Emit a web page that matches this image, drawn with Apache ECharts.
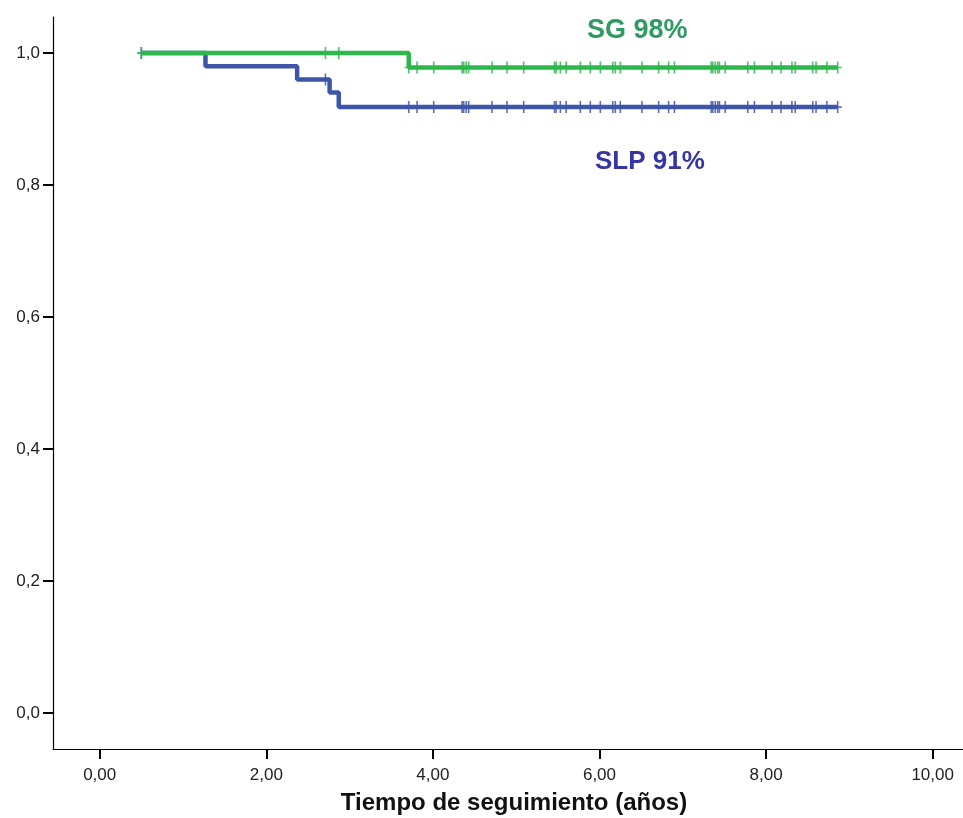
<!DOCTYPE html>
<html>
<head>
<meta charset="utf-8">
<script src="https://cdn.jsdelivr.net/npm/echarts@6/dist/echarts.min.js"></script>
<style>html,body{margin:0;padding:0;background:#fff}#c{width:963px;height:818px}</style>
</head>
<body>
<div id="c"></div>
<script>
// Kaplan-Meier step points [time (years), survival]
const sgSteps = [[0.5, 1.0], [3.71, 0.978], [8.86, 0.978]];
const slpSteps = [[0.5, 1.0], [1.27, 0.98], [2.37, 0.96], [2.76, 0.94], [2.87, 0.918], [8.86, 0.918]];
// censored observations (years)
const sharedCensor = [3.71, 3.81, 4.01, 4.35, 4.37, 4.40, 4.43, 4.71, 4.89, 5.09, 5.46, 5.48, 5.53, 5.60,
  5.77, 5.89, 6.01, 6.16, 6.19, 6.25, 6.51, 6.71, 6.83, 6.90, 7.34, 7.36, 7.39, 7.42, 7.44, 7.51,
  7.78, 7.86, 8.07, 8.18, 8.31, 8.35, 8.56, 8.60, 8.73, 8.86];
const sgCensor = [0.5, 2.71, 2.87].concat(sharedCensor);
const slpCensor = [0.5, 2.71].concat(sharedCensor);
const xTicks = [0, 2, 4, 6, 8, 10];
const yTicks = [0, 0.2, 0.4, 0.6, 0.8, 1.0];
const sgLabel = 'SG 98%';
const slpLabel = 'SLP 91%';
const xTitle = 'Tiempo de seguimiento (años)';

function survAt(steps, t) {
  let v = steps[0][1];
  for (const s of steps) { if (s[0] <= t + 1e-9) v = s[1]; }
  return v;
}
const green = '#2db84b', blue = '#3f56a8';
const plus = 'path://M-0.8,-5.5h1.6v11h-1.6z M-4,-0.7h8v1.4h-8z';

const chart = echarts.init(document.getElementById('c'), null, {renderer: 'canvas'});
const font = 'Liberation Sans, Arial, sans-serif';
chart.setOption({
  animation: false,
  backgroundColor: '#fff',
  grid: {left: 53, right: 0, top: 17, bottom: 69, containLabel: false},
  xAxis: {
    type: 'value', min: -0.5606, max: 10.364,
    splitLine: {show: false},
    axisLine: {onZero: false, lineStyle: {color: '#000', width: 1.2}},
    axisTick: {customValues: xTicks, length: 10, lineStyle: {color: '#000', width: 2}},
    axisLabel: {customValues: xTicks, margin: 18, fontSize: 17, fontFamily: font, color: '#222',
      formatter: v => v.toFixed(2).replace('.', ',')}
  },
  yAxis: {
    type: 'value', min: -0.05455, max: 1.05455,
    splitLine: {show: false},
    axisLine: {onZero: false, lineStyle: {color: '#000', width: 1.2}},
    axisTick: {customValues: yTicks, length: 10, lineStyle: {color: '#000', width: 2}},
    axisLabel: {customValues: yTicks, margin: 13, fontSize: 17, fontFamily: font, color: '#222',
      formatter: v => v.toFixed(1).replace('.', ',')}
  },
  series: [
    {type: 'line', step: 'end', data: slpSteps, showSymbol: false, z: 2,
      lineStyle: {color: blue, width: 4.5}},
    {type: 'scatter', data: slpCensor.map(t => [t, survAt(slpSteps, t)]), symbol: plus,
      symbolSize: [8, 12], z: 3, itemStyle: {color: blue, opacity: 0.85}},
    {type: 'line', step: 'end', data: sgSteps, showSymbol: false, z: 4,
      lineStyle: {color: green, width: 4.5}},
    {type: 'scatter', data: sgCensor.map(t => [t, survAt(sgSteps, t)]), symbol: plus,
      symbolSize: [8, 12], z: 5, itemStyle: {color: green, opacity: 0.85}}
  ],
  graphic: [
    {type: 'text', left: 587, top: 17, style: {text: sgLabel, font: 'bold 27px ' + font, fill: '#2f9a62'}},
    {type: 'text', left: 595, top: 149, style: {text: slpLabel, font: 'bold 26px ' + font, fill: '#3535a3'}},
    {type: 'text', x: 514, y: 791, style: {text: xTitle, font: 'bold 24px ' + font, fill: '#111', align: 'center'}}
  ]
});
</script>
</body>
</html>
